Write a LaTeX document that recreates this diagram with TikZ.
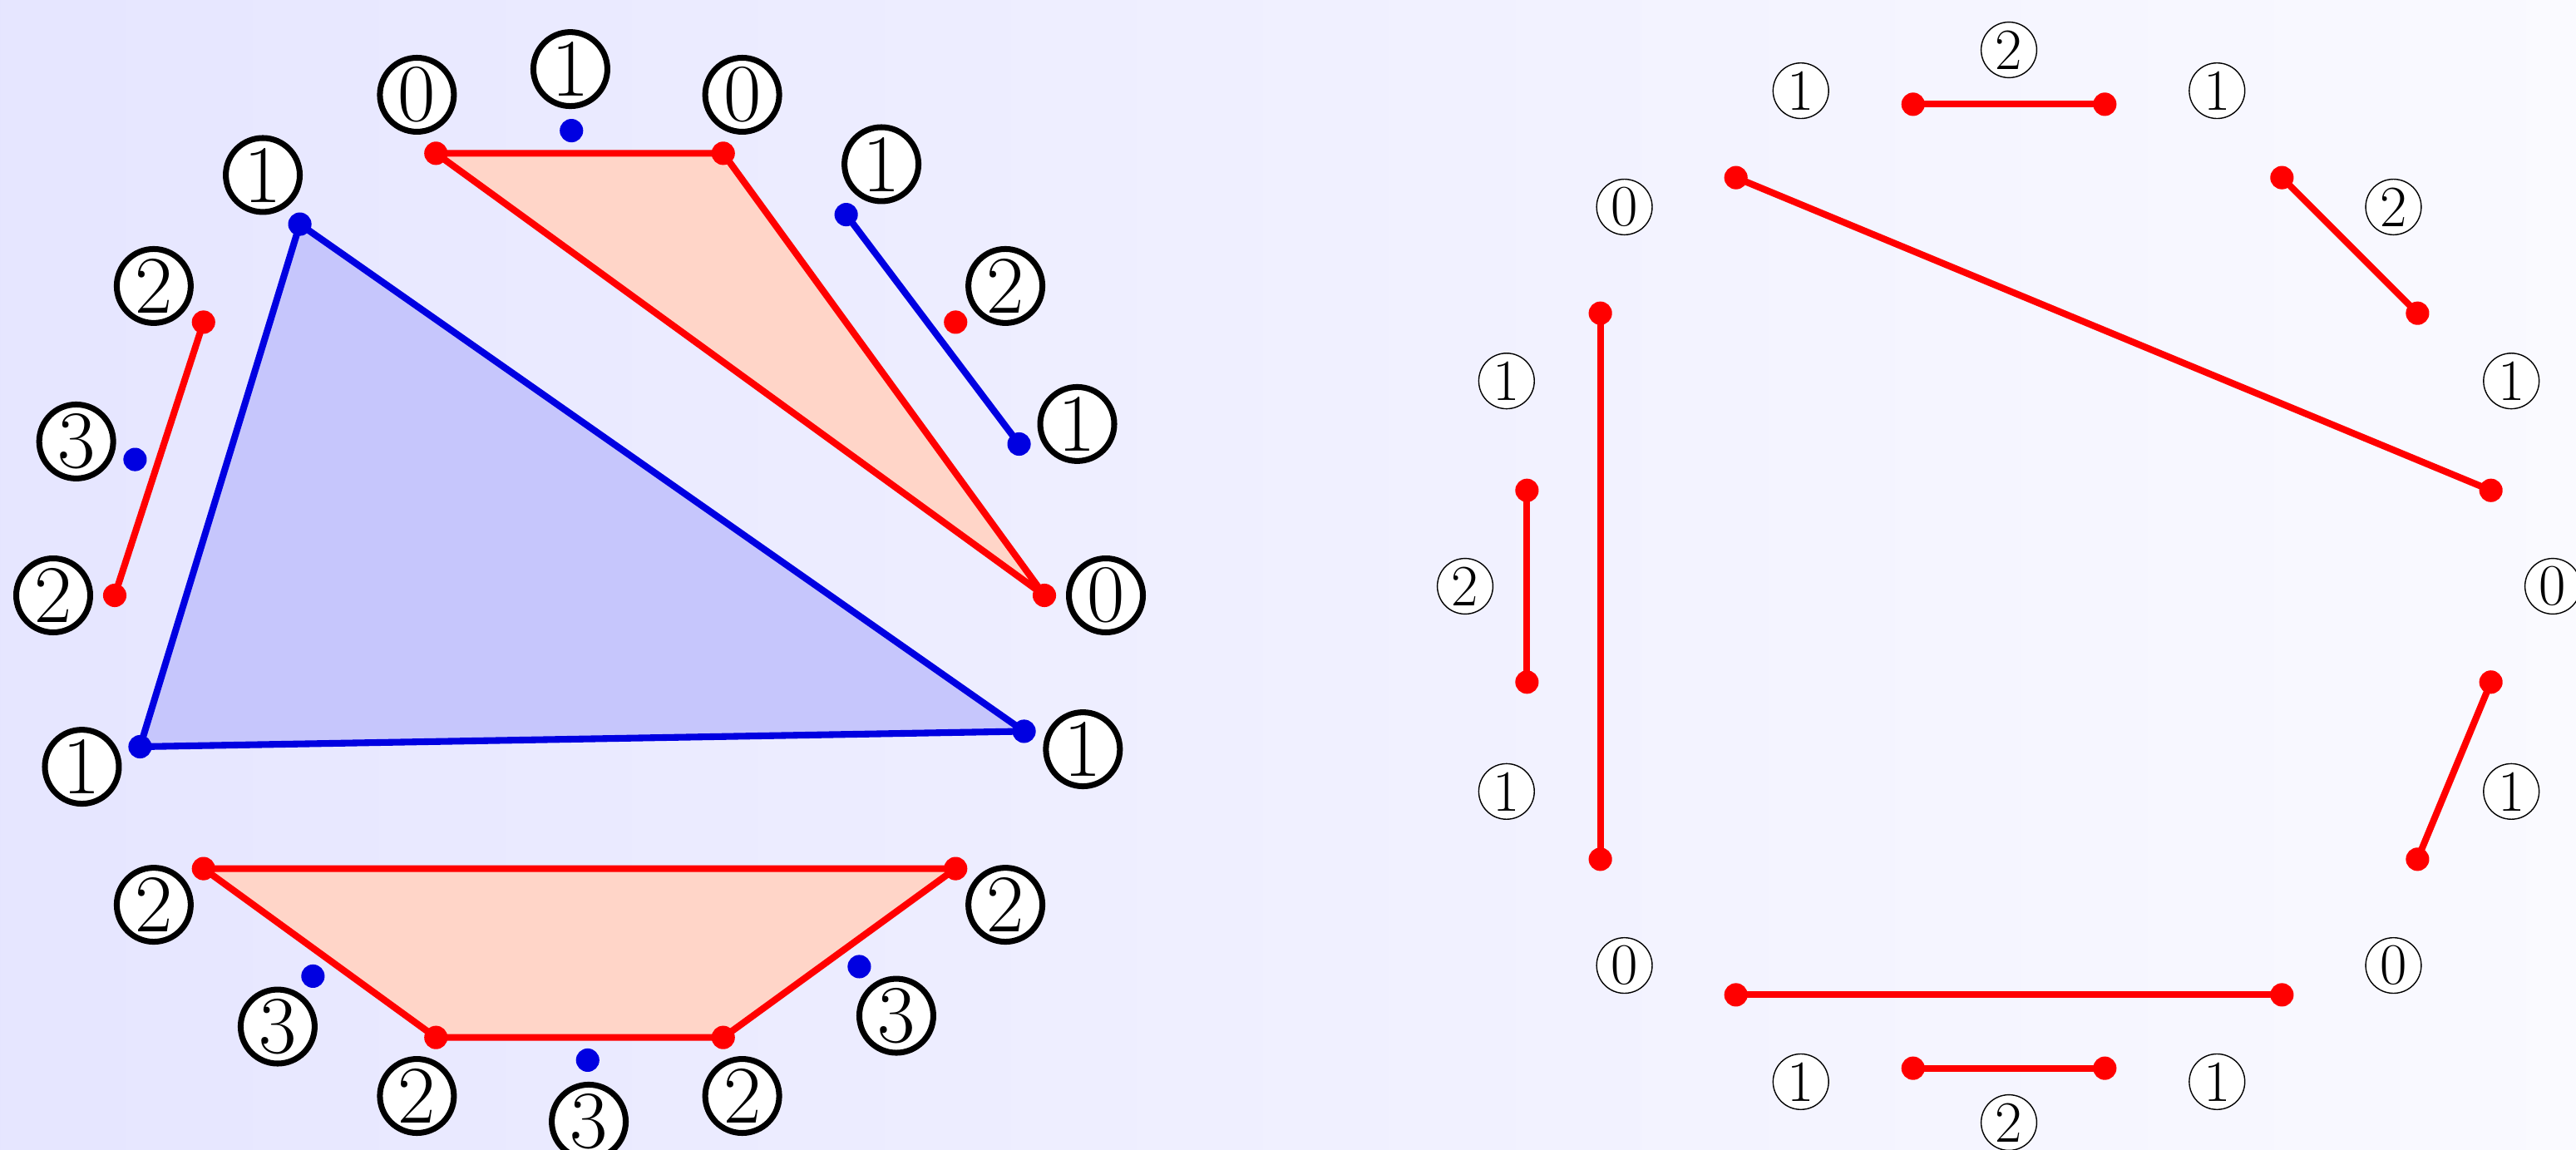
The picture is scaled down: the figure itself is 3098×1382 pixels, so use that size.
\documentclass[tikz,border=0pt]{standalone}
\usepackage{fontspec}
\usetikzlibrary{calc}
\definecolor{bfill}{RGB}{198,198,252}
\definecolor{pfill}{RGB}{255,213,200}
\definecolor{dblue}{RGB}{0,0,225}
\begin{document}
\begin{tikzpicture}[x=0.01cm,y=0.01cm,
  bigl/.style={circle,draw=black,line width=2pt,fill=white,minimum size=25.3pt,inner sep=0pt,font=\fontsize{28}{28}\selectfont},
  smalll/.style={circle,draw=black,line width=0.4pt,fill=white,minimum size=19pt,inner sep=0pt,font=\fontsize{20}{20}\selectfont},
  rdot/.style={circle,fill=red,inner sep=0pt,minimum size=8pt},
  bdot/.style={circle,fill=dblue,inner sep=0pt,minimum size=8pt},
  rline/.style={draw=red,line width=2.3pt,line join=round},
  bline/.style={draw=dblue,line width=2.3pt,line join=round}]
\useasboundingbox (0,0) rectangle (3098,-1382);
\shade[left color=blue!10,right color=blue!2] (0,0) rectangle (3098,-1382);
% ---------- left figure ----------
\coordinate (L) at (697,-716);
\foreach \k in {0,...,9}{
  \path (L) ++(36*\k:559) coordinate (r\k);
  \path (L) ++(19+36*\k:559) coordinate (b\k);
}
\fill[pfill] (r2) -- (r3) -- (r0) -- cycle;
\fill[pfill] (r6) -- (r7) -- (r8) -- (r9) -- cycle;
\fill[bfill] (b3) -- (b5) -- (b9) -- cycle;
\draw[rline] (r2) -- (r3) -- (r0) -- cycle;
\draw[rline] (r6) -- (r7) -- (r8) -- (r9) -- cycle;
\draw[rline] (r4) -- (r5);
\draw[bline] (b3) -- (b5) -- (b9) -- cycle;
\draw[bline] (b1) -- (b0);
\foreach \k in {0,...,9}{
  \node[rdot] (rd\k) at (r\k) {};
  \node[bdot] (bd\k) at (b\k) {};
}
\foreach \k/\t in {0/0,1/2,2/0,3/0,4/2,5/2,6/2,7/2,8/2,9/2}{
  \node[bigl] (rl\k) at ($(L)+(36*\k:633)$) {\t};
}
\foreach \k/\t in {0/1,1/1,2/1,3/1,4/3,5/1,6/3,7/3,8/3,9/1}{
  \node[bigl] (bl\k) at ($(L)+(19+36*\k:633)$) {\t};
}
% ---------- right figure ----------
\coordinate (C) at (2416,-705);
\foreach \k in {0,...,15}{
  \path (C) ++(11.25+22.5*\k:591) coordinate (p\k);
}
\foreach \a/\b in {3/4,5/0,2/1,6/9,7/8,15/14,10/13,11/12}{
  \draw[rline] (p\a) -- (p\b);
}
\foreach \k in {0,...,15}{
  \node[rdot] (pd\k) at (p\k) {};
}
\foreach \k/\t in {0/0,1/1,2/2,3/1,4/2,5/1,6/0,7/1,8/2,9/1,10/0,11/1,12/2,13/1,14/0,15/1}{
  \node[smalll] (q\k) at ($(C)+(22.5*\k:654 and 645)$) {\t};
}
\end{tikzpicture}
\end{document}
